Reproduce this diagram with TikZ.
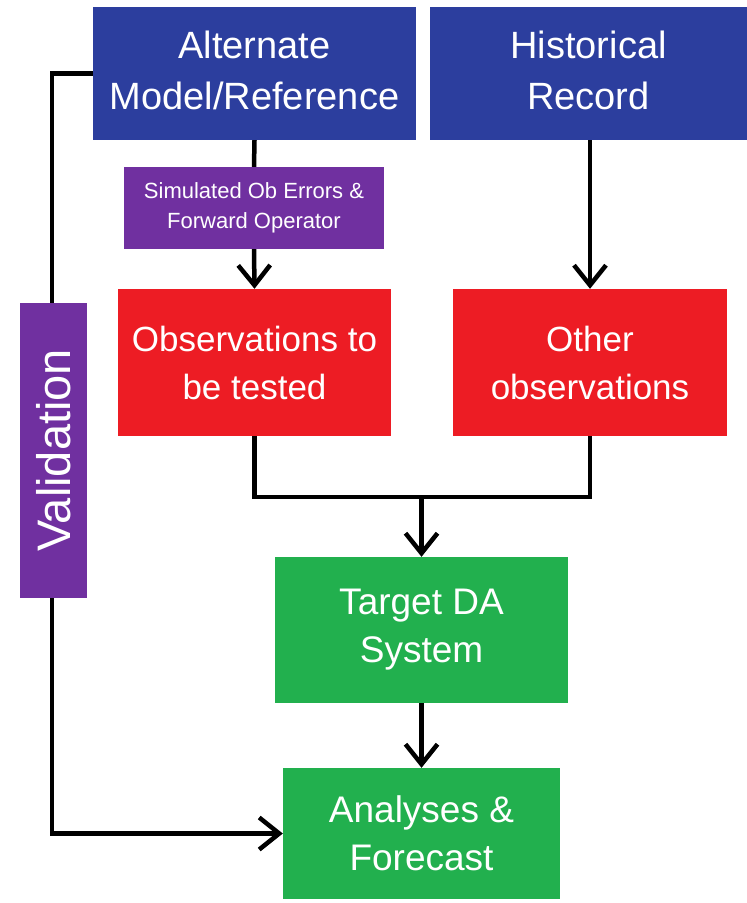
\documentclass[tikz,border=0pt]{standalone}
\usepackage{fontspec}
\setmainfont{Liberation Sans}
\usetikzlibrary{arrows.meta,backgrounds}

\definecolor{boxblue}{RGB}{44,62,158}
\definecolor{boxred}{RGB}{237,28,36}
\definecolor{boxgreen}{RGB}{34,176,78}
\definecolor{boxpurple}{RGB}{112,48,160}

% two centred lines, lifted slightly inside their box
\newcommand{\liftedlines}[2]{\raisebox{4pt}{\begin{tabular}{@{}c@{}}#1\\#2\end{tabular}}}

\tikzset{
  box/.style={rectangle, inner sep=0pt, align=center, text=white},
  bluebox/.style={box, fill=boxblue, font=\fontsize{38}{51}\selectfont},
  redbox/.style={box, fill=boxred, font=\fontsize{35}{48}\selectfont},
  greenbox/.style={box, fill=boxgreen, font=\fontsize{37}{48}\selectfont},
  smallbox/.style={box, fill=boxpurple, font=\fontsize{22}{30}\selectfont},
  conn/.style={line width=4.5pt, draw=black},
  arr/.style={conn, -{Straight Barb[length=20pt,width=32pt,line width=4.5pt]}},
}

\begin{document}
\begin{tikzpicture}[x=1pt, y=-1pt]
\useasboundingbox (0,0) rectangle (747,903);

% top row sources
\node[bluebox, minimum width=323pt, minimum height=133pt] (alt) at (254.5,73.5)
  {\liftedlines{Alternate}{Model/Reference}};
\node[bluebox, minimum width=317pt, minimum height=133pt] (hist) at (588.5,73.5)
  {\liftedlines{Historical}{Record}};

% simulated observation step
\node[smallbox, minimum width=260pt, minimum height=82pt] (sim) at (254,208)
  {Simulated Ob Errors \&\\Forward Operator};

% observation sets
\node[redbox, minimum width=273pt, minimum height=147pt] (obs) at (254.5,362.5)
  {Observations to\\be tested};
\node[redbox, minimum width=274pt, minimum height=147pt] (other) at (590,362.5)
  {Other\\observations};

% data assimilation and products
\node[greenbox, minimum width=293pt, minimum height=146pt] (tgt) at (421.5,630)
  {Target DA\\System};
\node[greenbox, minimum width=277pt, minimum height=131pt] (ana) at (421.5,833.5)
  {Analyses \&\\Forecast};

% validation label on the feedback line
\node[box, fill=boxpurple, rotate=90, minimum width=295pt, minimum height=67pt,
  font=\fontsize{47}{50}\selectfont] (val) at (53.5,450.5) {Validation};

\coordinate (vx) at (52,0);
\coordinate (jn) at (421.5,497);

\begin{pgfonlayer}{background}
  \draw[arr] (alt.west) -| (vx |- ana.west) -- (ana.west);
  \draw[conn] (alt.south) -- (sim.north);
  \draw[arr] (sim.south) -- (obs.north);
  \draw[arr] (other.north |- hist.south) -- (other.north);
  \draw[conn] (obs.south) |- (jn) -| (other.south);
  \draw[arr] (jn) -- (tgt.north);
  \draw[arr] (tgt.south) -- (ana.north);
\end{pgfonlayer}
\end{tikzpicture}
\end{document}
